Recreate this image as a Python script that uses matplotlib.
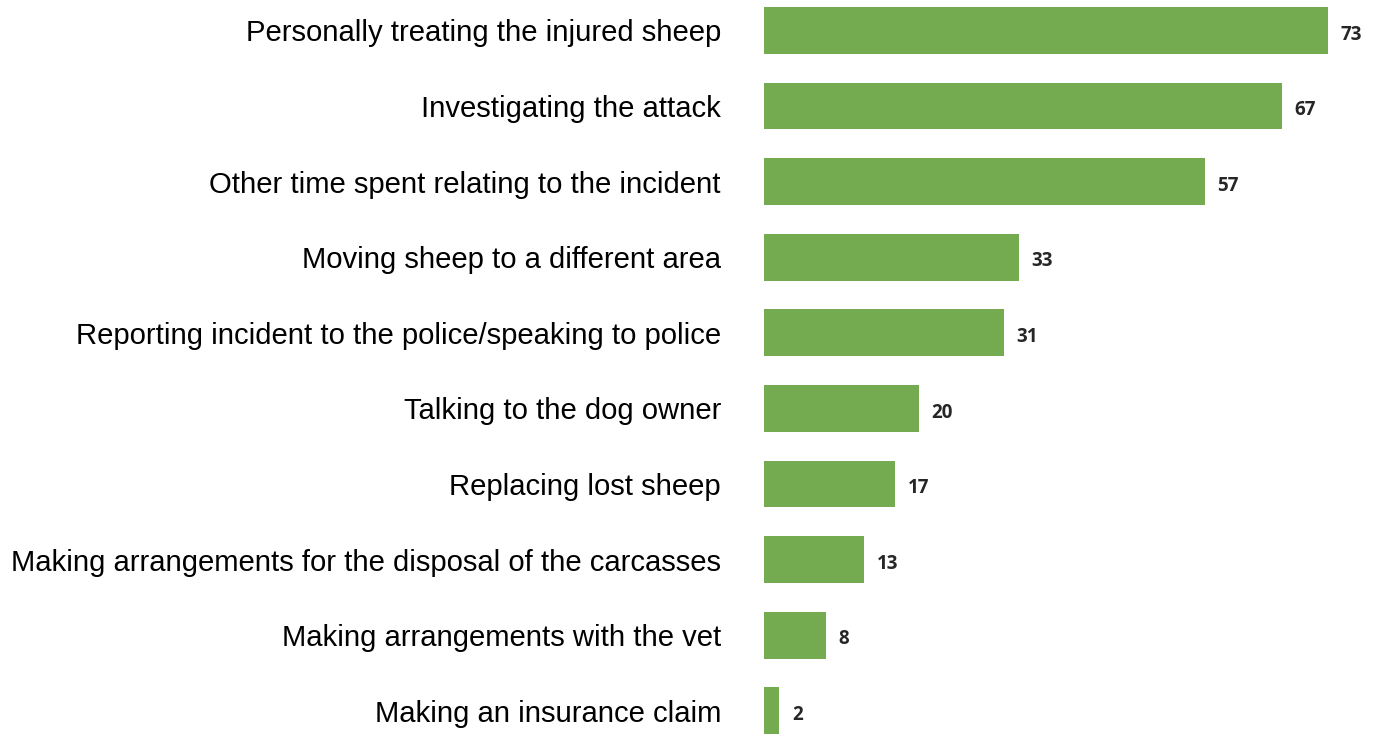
import matplotlib.pyplot as plt

categories = [
    "Personally treating the injured sheep",
    "Investigating the attack",
    "Other time spent relating to the incident",
    "Moving sheep to a different area",
    "Reporting incident to the police/speaking to police",
    "Talking to the dog owner",
    "Replacing lost sheep",
    "Making arrangements for the disposal of the carcasses",
    "Making arrangements with the vet",
    "Making an insurance claim",
]
values = [73, 67, 57, 33, 31, 20, 17, 13, 8, 2]

bar_color = "#75AB50"

fig = plt.figure(figsize=(13.8, 7.34), dpi=100)
ax = fig.add_axes([0.5536, 0.0, 0.4464, 1.0])

pos = list(range(len(values)))
ax.barh(pos, values, height=0.62, color=bar_color)

ax.set_ylim(9.307, -0.403)
ax.set_xlim(0, 79.7)

ax.set_yticks(pos)
ax.set_yticklabels(categories, family="Liberation Sans", fontsize=21.1, color="black")
ax.tick_params(axis="y", length=0, pad=31)
ax.set_xticks([])
for s in ax.spines.values():
    s.set_visible(False)

# value labels at the end of each bar
for y, v in zip(pos, values):
    ax.annotate(str(v), xy=(v, y), xytext=(9, -3), textcoords="offset points",
                ha="left", va="center", fontsize=13.5, fontweight="bold",
                family="Open Sans", color="#262626")

fig.savefig("out.png", dpi=100)
